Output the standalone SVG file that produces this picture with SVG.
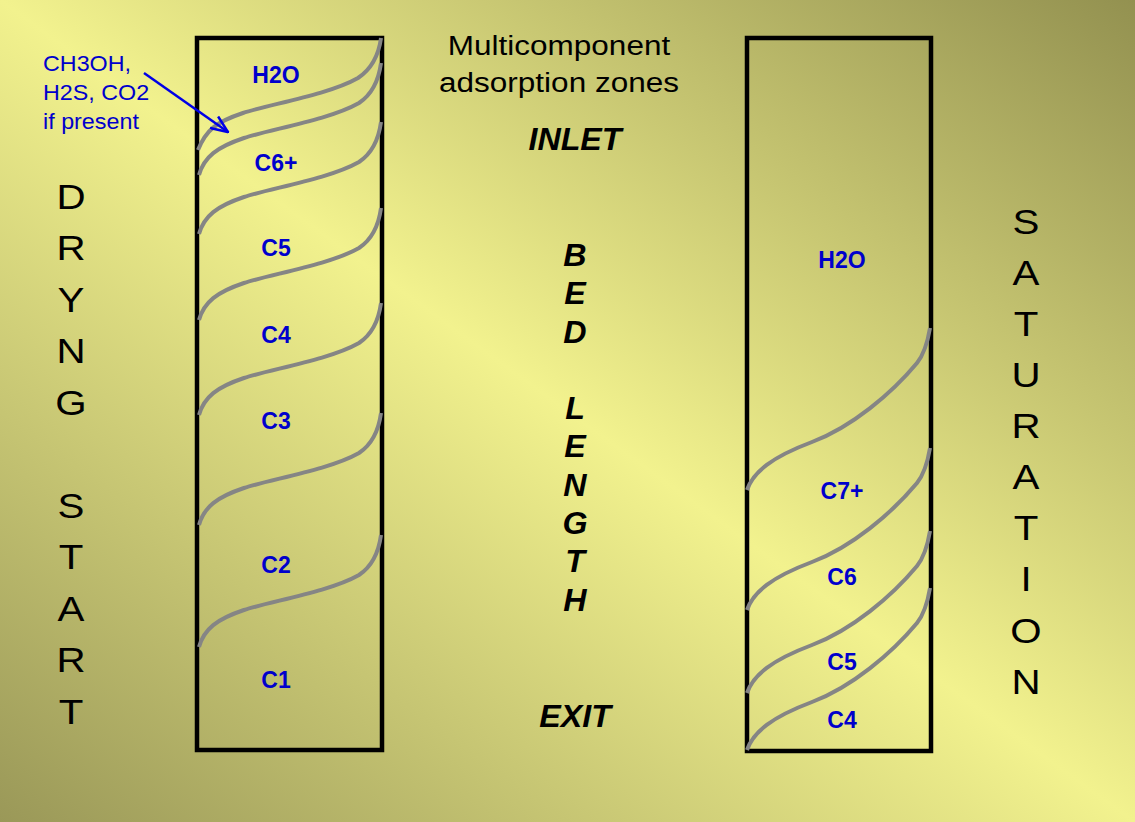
<svg xmlns="http://www.w3.org/2000/svg" width="1135" height="822" viewBox="0 0 1135 822">
  <defs>
    <linearGradient id="bg" x1="0" y1="1" x2="1" y2="0">
      <stop offset="0" stop-color="#9a9858"/>
      <stop offset="0.5" stop-color="#f2f28e"/>
      <stop offset="1" stop-color="#939150"/>
    </linearGradient>
    <marker id="vhead" viewBox="0 0 20 16" refX="19" refY="8" markerWidth="20" markerHeight="16" markerUnits="userSpaceOnUse" orient="auto">
      <path d="M2,1 L19,8 L2,15" fill="none" stroke="#0000e6" stroke-width="2.5"/>
    </marker>
    <style>
      .bed{fill:none;stroke:#000;stroke-width:4.5}
      .front{fill:none;stroke:#858585;stroke-width:4}
      .lbl{font-family:"Liberation Sans",Arial,sans-serif;font-weight:bold;font-size:23px;fill:#0000cc;text-anchor:middle}
      .note{font-family:"Liberation Sans",Arial,sans-serif;font-size:22px;fill:#0000cc}
      .big{font-family:"Liberation Sans",Arial,sans-serif;font-size:36px;fill:#000;text-anchor:middle}
      .title{font-family:"Liberation Sans",Arial,sans-serif;font-size:28px;fill:#000;text-anchor:middle}
      .axis{font-family:"Liberation Sans",Arial,sans-serif;font-size:31px;font-weight:bold;font-style:italic;fill:#000;text-anchor:middle}
    </style>
  </defs>

  <!-- background -->
  <rect x="0" y="0" width="1135" height="822" fill="url(#bg)"/>

  <!-- side captions -->
  <g id="drying-start" class="big" transform="translate(71,0) scale(1.12,1)">
    <text y="209">D</text><text y="260">R</text><text y="312">Y</text><text y="363">N</text><text y="415">G</text>
    <text y="518">S</text><text y="569">T</text><text y="621">A</text><text y="672">R</text><text y="724">T</text>
  </g>
  <g id="saturation" class="big" transform="translate(1026,0) scale(1.12,1)">
    <text y="234">S</text><text y="285">A</text><text y="336">T</text><text y="387">U</text><text y="438">R</text>
    <text y="489">A</text><text y="540">T</text><text y="591">I</text><text y="643">O</text><text y="694">N</text>
  </g>

  <!-- centre column -->
  <g id="title" class="title" transform="translate(559,0) scale(1.125,1)">
    <text y="55">Multicomponent</text>
    <text y="92">adsorption zones</text>
  </g>
  <g id="bed-axis" class="axis" transform="translate(575,0) scale(1.04,1)">
    <text y="150">INLET</text>
    <text y="266">B</text><text y="304">E</text><text y="343">D</text>
    <text y="419">L</text><text y="457">E</text><text y="496">N</text><text y="534">G</text><text y="572">T</text><text y="611">H</text>
    <text y="727">EXIT</text>
  </g>

  <!-- bed at start of drying -->
  <g id="bed-start">
    <rect class="bed" x="197" y="38" width="185" height="712"/>
    <g class="lbl">
      <text x="276" y="83">H2O</text>
      <text x="276" y="171">C6+</text>
      <text x="276" y="256">C5</text>
      <text x="276" y="343">C4</text>
      <text x="276" y="429">C3</text>
      <text x="276" y="573">C2</text>
      <text x="276" y="688">C1</text>
    </g>
  </g>

  <!-- bed at saturation -->
  <g id="bed-saturated">
    <rect class="bed" x="747" y="38" width="184" height="713"/>
    <g class="lbl">
      <text x="842" y="268">H2O</text>
      <text x="842" y="499">C7+</text>
      <text x="842" y="585">C6</text>
      <text x="842" y="670">C5</text>
      <text x="842" y="728">C4</text>
    </g>
  </g>

  <!-- annotation -->
  <g id="note" class="note" transform="translate(43,0) scale(1.06,1)">
    <text y="71">CH3OH,</text>
    <text y="100">H2S, CO2</text>
    <text y="129">if present</text>
  </g>

  <!-- connectors: mass-transfer fronts and the pointer -->
  <g id="connectors">
    <g class="front">
      <path d="M198,150 c8,-20 18,-28 45,-37 s85,-18 115,-35 c15,-10 21,-25 23,-40"/>
      <path d="M199,175 c5,-18 18,-28 45,-37 s85,-18 115,-35 c15,-10 20,-25 22,-40"/>
      <path d="M199,234 c5,-18 18,-28 45,-37 s85,-18 115,-35 c15,-10 20,-25 22,-40"/>
      <path d="M199,320 c5,-18 18,-28 45,-37 s85,-18 115,-35 c15,-10 20,-25 22,-40"/>
      <path d="M199,415 c5,-18 18,-28 45,-37 s85,-18 115,-35 c15,-10 20,-25 22,-40"/>
      <path d="M199,525 c5,-18 18,-28 45,-37 s85,-18 115,-35 c15,-10 20,-25 22,-40"/>
      <path d="M199,647 c5,-18 18,-28 45,-37 s85,-18 115,-35 c15,-10 20,-25 22,-40"/>

      <path d="M747,490 c6,-18 25,-33 65,-48 s80,-49 105,-79 c8,-10 11,-23 13,-35"/>
      <path d="M747,610 c6,-18 25,-33 65,-48 s80,-49 105,-79 c8,-10 11,-23 13,-35"/>
      <path d="M747,693 c6,-18 25,-33 65,-48 s80,-49 105,-79 c8,-10 11,-23 13,-35"/>
      <path d="M747,750 c6,-18 25,-33 65,-48 s80,-49 105,-79 c8,-10 11,-23 13,-35"/>
    </g>
    <line x1="144" y1="73" x2="228" y2="132" stroke="#0000e6" stroke-width="2.5" marker-end="url(#vhead)"/>
  </g>
</svg>
